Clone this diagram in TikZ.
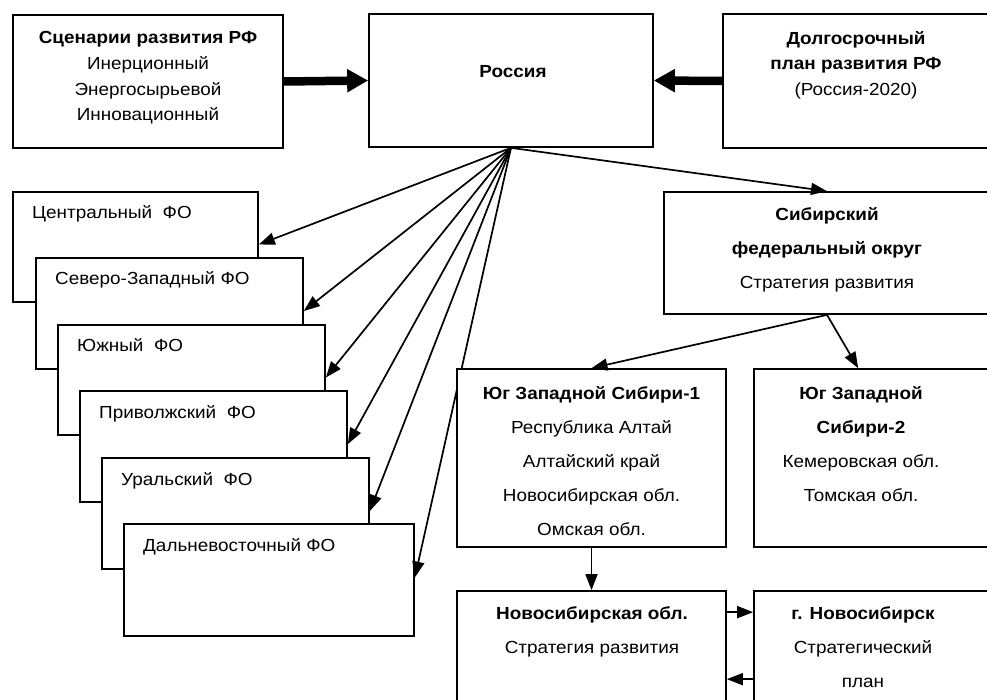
\documentclass[tikz,border=0pt]{standalone}
\usepackage{fontspec}
\setmainfont{Liberation Sans}[FakeStretch=1.08]
\usetikzlibrary{arrows.meta,fit,calc}
\newcommand\tstrut{\rule{0pt}{20pt}}
\begin{document}
\begin{tikzpicture}[x=1pt,y=-1pt,
  box/.style={draw, line width=1.7pt, fill=white, inner sep=0pt},
  txt/.style={inner sep=0pt, align=center, anchor=north, font=\fontsize{17.5}{34}\selectfont},
  txtt/.style={txt, font=\fontsize{17.5}{25.7}\selectfont},
  fotxt/.style={inner sep=0pt, anchor=base west, font=\fontsize{17.5}{20}\selectfont},
  arr/.style={line width=1.7pt, -{Triangle[length=16pt,width=12pt]}},
  bigarr/.style={line width=8.5pt, -{Triangle[length=21pt,width=22pt]}}]
\useasboundingbox (0,0) rectangle (987,700);
\clip (0,0) rectangle (987,700);

% top row
\node[box, fit={(13,15) (283,148)}] (sc) {};
\node[txtt] (sct) at (148,23.5) {\tstrut\textbf{Сценарии развития РФ}\\Инерционный\\Энергосырьевой\\Инновационный};
\node[box, fit={(369,14) (653,147)}] (ru) {};
\node[inner sep=0pt, anchor=base, font=\fontsize{17.5}{20}\selectfont\bfseries] (rut) at (513,78) {Россия};
\node[box, fit={(723,14) (995,148)}] (dolg) {};
\node[txtt] (dolgt) at (856,24) {\tstrut\textbf{Долгосрочный}\\\textbf{план развития РФ}\\(Россия-2020)};

\draw[bigarr] (sc.east) -- (ru.west);
\draw[bigarr] (dolg.west) -- (ru.east);

% federal districts stack
\node[box, fit={(13,192) (258,302)}] (fo1) {};
\node[fotxt] (fo1t) at (32,219) {Центральный~ ФО};
\node[box, fit={(36,258) (303,369)}] (fo2) {};
\node[fotxt] (fo2t) at (55,285) {Северо-Западный ФО};
\node[box, fit={(58,325) (325,435)}] (fo3) {};
\node[fotxt] (fo3t) at (77,352) {Южный~ ФО};
\node[box, fit={(80,391) (347,502)}] (fo4) {};
\node[fotxt] (fo4t) at (99,418) {Приволжский~ ФО};
\node[box, fit={(102,458) (369,569)}] (fo5) {};
\node[fotxt] (fo5t) at (121,485) {Уральский~ ФО};
\node[box, fit={(124,524) (414,636)}] (fo6) {};
\node[fotxt] (fo6t) at (143,551) {Дальневосточный ФО};

\foreach \n in {fo1,fo2,fo3,fo4,fo5,fo6}
  \draw[arr] (ru.south) -- ([yshift=2.5pt]\n.east);

% Siberian branch
\node[box, fit={(664,192) (990,314)}] (sib) {};
\node[txt] (sibt) at (827,200) {\tstrut\textbf{Сибирский}\\\textbf{федеральный округ}\\Стратегия развития};
\draw[arr] (ru.south) -- (sib.north);

\node[box, fit={(457,369) (726,547)}] (y1) {};
\node[txt] (y1t) at (591.5,379) {\tstrut\textbf{Юг Западной Сибири-1}\\Республика Алтай\\Алтайский край\\Новосибирская обл.\\Омская обл.};
\node[box, fit={(754,369) (1000,547)}] (y2) {};
\node[txt] (y2t) at (861,379) {\tstrut\textbf{Юг Западной}\\\textbf{Сибири-2}\\Кемеровская обл.\\Томская обл.};
\draw[arr] (sib.south) -- (y1.north);
\draw[arr] (sib.south) -- ($(y2.north west)+(105,0)$);

\node[box, fit={(457,591) (726,715)}] (novo) {};
\node[txt] (novot) at (592,599) {\tstrut\textbf{Новосибирская обл.}\\Стратегия развития};
\node[box, fit={(754,591) (1000,715)}] (gor) {};
\node[txt] (gort) at (863,599) {\tstrut\textbf{г. Новосибирск}\\Стратегический\\план};
\draw[arr] (y1.south) -- (novo.north);
\draw[arr] ($(novo.north east)+(0,22)$) -- ($(gor.north west)+(0,22)$);
\draw[arr] ($(gor.north west)+(0,89)$) -- ($(novo.north east)+(0,89)$);
\end{tikzpicture}
\end{document}
